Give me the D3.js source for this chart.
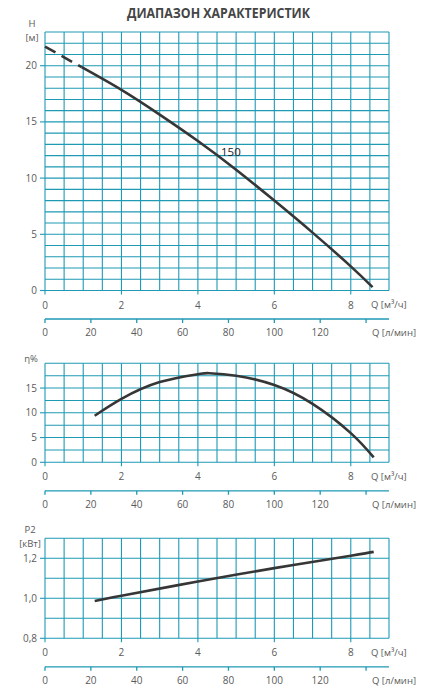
<!DOCTYPE html>
<html><head><meta charset="utf-8">
<script src="https://cdn.jsdelivr.net/npm/d3@7"></script>
<style>
body{margin:0;background:#fff;}
text{font-family:"Open Sans",sans-serif;}
</style></head><body>
<svg id="c" width="441" height="695"></svg>
<script>
// ---- data ----
const headQ = [0, 0.96, 2, 3, 4, 5, 6, 7, 8, 8.57];
const headH = [21.7, 19.87, 17.85, 15.65, 13.3, 10.75, 8.0, 5.15, 2.15, 0.3];
const dashedUntil = 0.96;
const effQ = [1.3, 2, 3, 4, 4.3, 5, 6, 7, 8, 8.6];
const effEta = [9.4, 12.8, 16.2, 17.8, 18.0, 17.5, 15.6, 11.8, 5.9, 1.0];
const powQ = [1.3, 2, 4, 6, 8, 8.6];
const powP = [0.987, 1.013, 1.084, 1.151, 1.213, 1.232];
const qTicks = [0, 2, 4, 6, 8];
const lminTicks = [0, 20, 40, 60, 80, 100, 120, 140];
const lminLabels = [0, 20, 40, 60, 80, 100, 120];
const hTicks = [0, 5, 10, 15, 20];
const etaTicks = [0, 5, 10, 15];
const pTicks = [0.8, 1.0, 1.2];
const curveLabel = "150";
const title = "ДИАПАЗОН ХАРАКТЕРИСТИК";

const svg = d3.select("#c");
const gridColor = "#1e9ab5";
const textColor = "#5a5a5a";
const curveColor = "#363636";
const L = 45, R = 389;
const x = d3.scaleLinear().domain([0, 9]).range([L, R]);
const xl = d3.scaleLinear().domain([0, 150]).range([L, R]);

svg.append("text").attr("x", 218.5).attr("y", 18).attr("text-anchor", "middle")
  .attr("font-family", "'Liberation Sans Narrow','Open Sans',sans-serif")
  .attr("font-weight", "bold").attr("font-size", 14.5).attr("fill", "#454545")
  .attr("textLength", 183).attr("lengthAdjust", "spacingAndGlyphs")
  .text(title);

function panel(top, bottom, yDomain, yStep, yTicks, fmt, yLabels) {
  const y = d3.scaleLinear().domain(yDomain).range([bottom, top]);
  const g = svg.append("g");
  const vx = d3.range(0, 9.0001, 0.5);
  g.selectAll(".v").data(vx).join("line")
    .attr("x1", d => x(d)).attr("x2", d => x(d))
    .attr("y1", top).attr("y2", d => qTicks.includes(d) ? bottom + 4 : bottom)
    .attr("stroke", gridColor).attr("stroke-width", 1.1);
  const hy = d3.range(yDomain[0], yDomain[1] + yStep / 2, yStep);
  g.selectAll(".h").data(hy).join("line")
    .attr("x1", L).attr("x2", R).attr("y1", d => y(d)).attr("y2", d => y(d))
    .attr("stroke", gridColor).attr("stroke-width", 1.1);
  g.selectAll(".yt").data(yTicks).join("line")
    .attr("x1", L - 5).attr("x2", L).attr("y1", d => y(d)).attr("y2", d => y(d))
    .attr("stroke", gridColor).attr("stroke-width", 1.1);
  g.selectAll(".yl").data(yTicks).join("text")
    .attr("x", L - 8).attr("y", d => y(d)).attr("dy", "0.35em")
    .attr("text-anchor", "end").attr("font-size", 10).attr("fill", textColor)
    .text(fmt);
  yLabels.forEach(lb => {
    g.append("text").attr("x", lb[0]).attr("y", lb[1]).attr("text-anchor", "middle")
      .attr("font-size", 9.5).attr("fill", textColor).text(lb[2]);
  });
  g.selectAll(".xl").data(qTicks).join("text")
    .attr("x", d => x(d)).attr("y", bottom + 14.5).attr("dy", "0.35em")
    .attr("text-anchor", "middle").attr("font-size", 10).attr("fill", textColor).text(d => d);
  g.append("text").attr("x", 371).attr("y", bottom + 14.5).attr("dy", "0.35em")
    .attr("font-size", 9.5).attr("fill", textColor).text("Q [м³/ч]");
  const ay = bottom + 28.5;
  g.append("line").attr("x1", L).attr("x2", R).attr("y1", ay).attr("y2", ay)
    .attr("stroke", gridColor).attr("stroke-width", 1.3);
  g.selectAll(".lt").data(lminTicks).join("line")
    .attr("x1", d => xl(d)).attr("x2", d => xl(d)).attr("y1", ay).attr("y2", ay + 4)
    .attr("stroke", gridColor).attr("stroke-width", 1.3);
  g.selectAll(".ll").data(lminLabels).join("text")
    .attr("x", d => xl(d)).attr("y", bottom + 42).attr("dy", "0.35em")
    .attr("text-anchor", "middle").attr("font-size", 10).attr("fill", textColor).text(d => d);
  g.append("text").attr("x", 372).attr("y", bottom + 42).attr("dy", "0.35em")
    .attr("font-size", 9.5).attr("fill", textColor).text("Q [л/мин]");
  return {g, y};
}

// top panel
const p1 = panel(32, 290.5, [0, 23], 1, hTicks, d => d, [[32, 27, "H"], [32, 41, "[м]"]]);
const hPts = headQ.map((q, i) => [q, headH[i]]);
const line1 = d3.line().x(d => x(d[0])).y(d => p1.y(d[1])).curve(d3.curveNatural);
p1.g.append("path").datum(hPts.filter(d => d[0] <= dashedUntil))
  .attr("d", d3.line().x(d => x(d[0])).y(d => p1.y(d[1])))
  .attr("fill", "none").attr("stroke", curveColor).attr("stroke-width", 2.6)
  .attr("stroke-dasharray", "12,7");
p1.g.append("path").datum(hPts.filter(d => d[0] >= dashedUntil))
  .attr("d", line1).attr("fill", "none").attr("stroke", curveColor).attr("stroke-width", 2.6);
p1.g.append("text").attr("x", 221).attr("y", 155.5).attr("font-size", 11.5)
  .attr("fill", "#222").text(curveLabel);

// middle panel
const p2 = panel(363.3, 462.3, [0, 20], 2.5, etaTicks, d => d, [[31, 362, "η%"]]);
const line2 = d3.line().x((d, i) => x(effQ[i])).y(d => p2.y(d)).curve(d3.curveNatural);
p2.g.append("path").datum(effEta).attr("d", line2).attr("fill", "none")
  .attr("stroke", curveColor).attr("stroke-width", 2.6);

// bottom panel
const p3 = panel(538.3, 638.3, [0.8, 1.3], 0.1, pTicks, d => d3.format(".1f")(d).replace(".", ","),
  [[30, 533, "P2"], [30, 547, "[кВт]"]]);
const line3 = d3.line().x((d, i) => x(powQ[i])).y(d => p3.y(d)).curve(d3.curveNatural);
p3.g.append("path").datum(powP).attr("d", line3).attr("fill", "none")
  .attr("stroke", curveColor).attr("stroke-width", 2.6);
</script>
</body></html>
